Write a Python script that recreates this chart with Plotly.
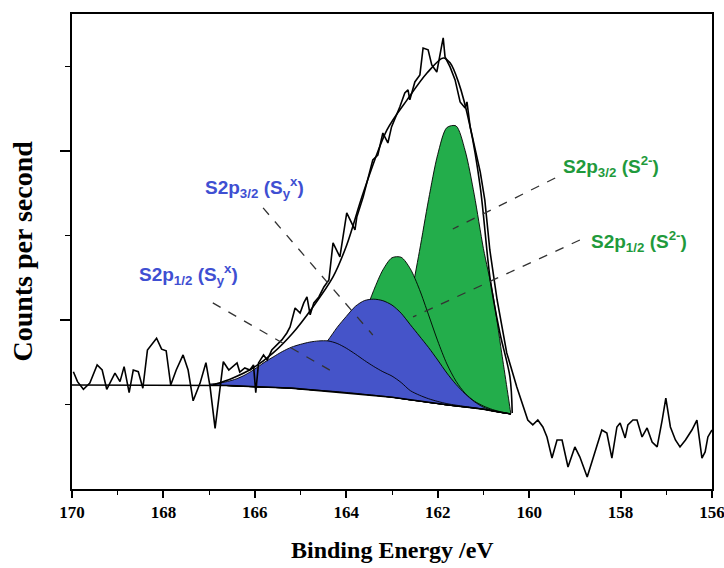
import plotly.graph_objects as go

# ---------------- data ----------------
# raw spectrum
RAW_X = [169.97,169.88,169.75,169.61,169.45,169.34,169.24,169.06,168.95,168.86,
         168.75,168.66,168.55,168.45,168.35,168.26,168.15,168.04,167.94,167.84,
         167.72,167.57,167.46,167.35,167.20,167.07,166.98,166.87,166.78,166.69,
         166.57,166.39,166.33,166.22,166.11,166.03,165.98,165.92,165.81,165.73,
         165.63,165.52,165.41,165.30,165.23,165.12,165.01,164.93,164.86,164.79,
         164.71,164.60,164.49,164.38,164.29,164.14,163.99,163.81,163.77,163.63,
         163.42,163.31,163.20,163.09,163.01,162.83,162.72,162.65,162.61,162.50,
         162.39,162.32,162.21,162.13,162.02,161.91,161.88,161.84,161.73,161.62,
         161.51,161.40,161.36,161.29,161.18,161.07,160.97,160.86,160.70,160.49,
         160.27,160.13,160.03,159.92,159.81,159.70,159.61,159.50,159.39,159.28,
         159.15,159.00,158.89,158.73,158.56,158.41,158.30,158.19,158.08,158.01,
         157.90,157.84,157.73,157.64,157.53,157.42,157.31,157.20,157.09,157.01,
         156.91,156.80,156.70,156.58,156.44,156.33,156.22,156.15,156.09,156.00]
RAW_Y = [694,635,590,627,734,704,590,685,635,724,
         570,704,694,596,822,852,892,827,818,615,
         704,793,704,522,625,747,605,359,546,753,
         704,746,692,716,704,734,570,746,793,763,
         822,852,882,923,959,1071,1041,1101,1136,1030,
         1101,1136,1195,1237,1456,1373,1633,1533,1609,1728,
         1947,1976,2106,2047,2142,2260,2343,2361,2302,2408,
         2450,2609,2598,2509,2467,2627,2669,2556,2497,2420,
         2290,2254,2290,2142,2006,1876,1710,1414,1118,805,
         604,485,408,379,408,367,308,183,290,290,
         130,249,189,71,219,349,331,183,367,391,
         302,379,408,408,308,361,278,249,408,538,
         367,290,249,290,349,408,183,219,308,349]

# fitted envelope
ENV_X = [166.92,166.48,166.04,165.60,165.17,164.73,164.29,163.99,163.63,163.11,
         162.67,162.23,161.88,161.73,161.55,161.29,161.07,160.85,160.64,160.42,160.37]
ENV_Y = [615,657,716,805,923,1077,1255,1444,1751,2124,
         2302,2462,2550,2521,2410,2142,1787,1237,923,663,450]

# component grid (eV)
FIT_X = [167.0,166.8,166.6,166.4,166.2,166.0,165.8,165.6,165.4,165.2,
         165.0,164.8,164.6,164.4,164.2,164.0,163.8,163.6,163.4,163.2,
         163.0,162.8,162.6,162.4,162.2,162.0,161.8,161.6,161.4,161.2,
         161.0,160.8,160.6,160.4]
BACKGROUND = [615,614,612,610,607,605,603,601,599,597,
              592,588,584,580,576,571,566,560,555,549,
              543,535,527,520,512,505,497,491,485,479,
              472,462,452,444]
BG_START_X = 170.0
S32_SYX = [615,614,612,611,610,611,615,623,639,665,
           702,753,814,880,956,1021,1081,1115,1123,1114,
           1088,1040,972,905,837,763,686,619,563,517,
           484,465,452,444]
S12_SYX = [620,626,636,652,677,710,748,781,813,839,
           856,869,876,876,861,833,798,760,725,694,
           668,630,582,555,534,518,505,496,488,481,
           473,462,452,444]
S32_S2 = [615,614,612,610,607,605,603,601,599,597,
          592,588,584,580,576,573,572,578,600,649,
          743,897,1123,1406,1712,1979,2138,2148,2002,1740,
          1422,1162,805,444]
S12_S2 = [615,614,612,610,607,605,603,601,600,599,
          598,603,617,647,700,782,896,1032,1175,1296,
          1368,1371,1303,1181,1030,876,740,638,566,520,
          491,470,455,444]

X_TICKS = [170, 168, 166, 164, 162, 160, 158, 156]
Y_MAJOR = [1000, 2000]
Y_MINOR = [500, 1500, 2500]

BLUE_FILL = "#4554c9"
GREEN_FILL = "#23ad4b"
BLUE_TXT = "#3f4fd2"
GREEN_TXT = "#1f9a3c"

fig = go.Figure()

# component fills: green first, blue on top; each outline in black
for comp, col in [(S32_S2, GREEN_FILL), (S12_S2, GREEN_FILL),
                  (S32_SYX, BLUE_FILL), (S12_SYX, BLUE_FILL)]:
    px = FIT_X + FIT_X[::-1]
    py = comp + BACKGROUND[::-1]
    fig.add_trace(go.Scatter(x=px, y=py, mode="lines", fill="toself",
                             fillcolor=col,
                             line=dict(color="black", width=0.9, shape="spline", smoothing=0.8),
                             hoverinfo="skip"))

# background line
fig.add_trace(go.Scatter(x=[BG_START_X] + FIT_X, y=[BACKGROUND[0]] + BACKGROUND,
                         mode="lines", line=dict(color="black", width=1.6)))
# envelope
fig.add_trace(go.Scatter(x=ENV_X, y=ENV_Y, mode="lines",
                         line=dict(color="black", width=1.6, shape="spline", smoothing=0.9)))
# raw data
fig.add_trace(go.Scatter(x=RAW_X, y=RAW_Y, mode="lines",
                         line=dict(color="black", width=1.6)))

# labels and dashed leader lines
LABELS = [
    ("S2p<sub>3/2</sub> (S<sub>y</sub><sup>x</sup>)", 166.0, 1781, BLUE_TXT, (165.82, 1663, 163.42, 911)),
    ("S2p<sub>1/2</sub> (S<sub>y</sub><sup>x</sup>)", 167.46, 1270, BLUE_TXT, (166.92, 1101, 164.25, 686)),
    ("S2p<sub>3/2</sub> (S<sup>2-</sup>)", 158.21, 1905, GREEN_TXT, (159.43, 1840, 161.67, 1538)),
    ("S2p<sub>1/2</sub> (S<sup>2-</sup>)", 157.60, 1467, GREEN_TXT, (158.89, 1473, 162.54, 1018)),
]
for txt, lx, ly, col, (x0, y0, x1, y1) in LABELS:
    fig.add_annotation(x=lx, y=ly, text=txt, showarrow=False,
                       font=dict(family="Liberation Sans", size=19, color=col, weight="bold"))
    fig.add_shape(type="line", x0=x0, y0=y0, x1=x1, y1=y1,
                  line=dict(color="#333333", width=1.3, dash="dash"))

# axis titles
fig.add_annotation(x=0.5, y=-0.128, xref="paper", yref="paper", text="Binding Energy /eV",
                   showarrow=False, yanchor="middle",
                   font=dict(family="Liberation Serif", size=24, color="black", weight="bold"))
fig.add_annotation(x=-0.078, y=0.50, xref="paper", yref="paper", text="Counts per second",
                   showarrow=False, textangle=-90, xanchor="center",
                   font=dict(family="Liberation Serif", size=28, color="black", weight="bold"))

fig.update_layout(
    width=724, height=568, autosize=False,
    margin=dict(l=72, r=12, t=14, b=79),
    paper_bgcolor="white", plot_bgcolor="white",
    showlegend=False,
    xaxis=dict(range=[170, 156], tickvals=X_TICKS, ticks="outside", ticklen=7, tickwidth=1.5,
               tickcolor="black", showline=True, linecolor="black", linewidth=1.5, mirror=True,
               showgrid=False, zeroline=False, automargin=False, ticklabeloverflow="allow",
               tickfont=dict(family="Liberation Serif", size=17, color="black", weight="bold"),
               minor=dict(dtick=1, tick0=156, ticks="outside", ticklen=4, tickwidth=1.2,
                          tickcolor="black", showgrid=False)),
    yaxis=dict(range=[0, 2810], tickvals=Y_MAJOR, ticks="outside", ticklen=10, tickwidth=1.5,
               tickcolor="black", showticklabels=False, showline=True, linecolor="black",
               linewidth=1.5, mirror=True, showgrid=False, zeroline=False, automargin=False,
               minor=dict(tickvals=Y_MINOR, ticks="outside", ticklen=5, tickwidth=1.2,
                          tickcolor="black", showgrid=False)),
)

fig.write_html("out.html", config={"responsive": False, "displayModeBar": False},
               post_script="document.body.style.margin='0px';document.body.style.overflow='hidden';")
